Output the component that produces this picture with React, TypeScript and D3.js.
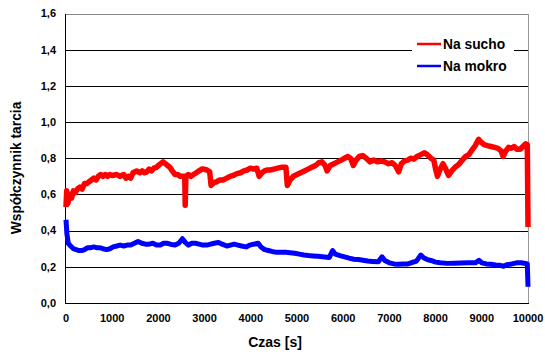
import React from "react";
import * as d3 from "d3";

const dryTimes = [0,15,40,80,120,160,200,250,300,350,400,450,500,550,600,650,700,750,800,850,900,950,1000,1100,1170,1250,1300,1350,1400,1450,1530,1600,1650,1700,1750,1800,1850,1900,1960,2000,2050,2100,2150,2200,2250,2300,2360,2420,2470,2530,2570,2580,2595,2650,2700,2760,2820,2880,2940,2980,3050,3110,3140,3200,3260,3330,3400,3480,3550,3620,3700,3780,3850,3920,3990,4060,4130,4180,4240,4300,4350,4420,4500,4580,4660,4760,4790,4850,4920,5000,5080,5160,5240,5320,5400,5470,5540,5610,5650,5720,5800,5880,5960,6030,6100,6160,6220,6280,6350,6420,6500,6580,6660,6740,6820,6900,6980,7060,7130,7200,7260,7330,7400,7460,7530,7600,7680,7760,7820,7900,7960,8000,8040,8100,8160,8220,8280,8350,8420,8500,8580,8650,8720,8800,8860,8930,8980,9050,9120,9200,9280,9350,9420,9460,9520,9580,9640,9700,9760,9830,9890,9950,9985,10000];
const dryValues = [0.53,0.62,0.55,0.60,0.58,0.62,0.61,0.63,0.64,0.63,0.66,0.66,0.67,0.68,0.69,0.68,0.70,0.71,0.70,0.71,0.70,0.71,0.705,0.71,0.70,0.71,0.69,0.70,0.69,0.72,0.73,0.72,0.73,0.72,0.725,0.74,0.73,0.745,0.75,0.76,0.77,0.78,0.77,0.76,0.75,0.73,0.71,0.71,0.70,0.70,0.70,0.54,0.70,0.71,0.70,0.71,0.72,0.73,0.74,0.74,0.735,0.725,0.65,0.665,0.67,0.68,0.68,0.69,0.70,0.705,0.715,0.72,0.73,0.735,0.745,0.74,0.745,0.70,0.72,0.73,0.735,0.735,0.74,0.745,0.75,0.75,0.65,0.68,0.70,0.71,0.72,0.73,0.74,0.75,0.76,0.775,0.78,0.76,0.73,0.76,0.77,0.78,0.79,0.80,0.81,0.80,0.76,0.79,0.81,0.815,0.80,0.78,0.79,0.78,0.785,0.78,0.77,0.775,0.76,0.725,0.77,0.785,0.79,0.80,0.795,0.81,0.82,0.83,0.82,0.80,0.79,0.74,0.70,0.74,0.77,0.74,0.705,0.73,0.75,0.765,0.79,0.81,0.82,0.85,0.87,0.905,0.89,0.875,0.87,0.865,0.86,0.855,0.84,0.81,0.84,0.86,0.855,0.865,0.85,0.85,0.865,0.88,0.875,0.42];

const wetTimes = [0,20,50,100,160,220,280,340,400,460,520,600,680,740,800,880,950,1020,1100,1170,1250,1320,1400,1480,1560,1640,1720,1800,1880,1960,2040,2110,2180,2260,2360,2440,2520,2580,2650,2720,2800,2880,2960,3050,3130,3210,3300,3380,3480,3560,3640,3720,3800,3900,3980,4060,4160,4220,4300,4380,4460,4560,4650,4750,4850,4950,5050,5150,5250,5350,5450,5550,5700,5770,5830,5930,6030,6130,6230,6330,6430,6530,6630,6760,6840,6900,7000,7100,7200,7300,7400,7500,7580,7680,7740,7820,7900,8000,8100,8250,8400,8550,8700,8860,8940,9000,9100,9200,9300,9400,9470,9550,9650,9750,9850,9950,9985,10000];
const wetValues = [0.46,0.38,0.33,0.315,0.30,0.295,0.29,0.29,0.295,0.305,0.305,0.31,0.305,0.305,0.30,0.295,0.30,0.31,0.315,0.32,0.315,0.32,0.32,0.33,0.34,0.33,0.325,0.325,0.33,0.32,0.32,0.33,0.33,0.325,0.32,0.33,0.355,0.335,0.32,0.33,0.33,0.325,0.32,0.32,0.325,0.33,0.335,0.325,0.315,0.32,0.325,0.32,0.315,0.31,0.32,0.325,0.33,0.31,0.295,0.29,0.285,0.28,0.28,0.28,0.278,0.275,0.27,0.265,0.262,0.26,0.258,0.256,0.252,0.29,0.27,0.262,0.255,0.248,0.242,0.24,0.236,0.232,0.23,0.228,0.255,0.235,0.222,0.216,0.214,0.215,0.216,0.225,0.23,0.265,0.25,0.24,0.235,0.226,0.222,0.219,0.22,0.221,0.222,0.222,0.236,0.222,0.216,0.214,0.21,0.208,0.203,0.212,0.216,0.222,0.222,0.218,0.216,0.09];

const xTicks = [0,1000,2000,3000,4000,5000,6000,7000,8000,9000,10000];
const yTicks = [0,0.2,0.4,0.6,0.8,1.0,1.2,1.4,1.6];
const seriesNames = ["Na sucho", "Na mokro"];
const seriesColors = ["#ff0000", "#0000ff"];

const W = 545, H = 356;
const L = 66, R = 528, T = 13.5, B = 303;

export default function App() {
  const x = d3.scaleLinear().domain([0, 10000]).range([L, R]);
  const y = d3.scaleLinear().domain([0, 1.6]).range([B, T]);
  const line = d3.line<[number, number]>().x(d => x(d[0])).y(d => y(d[1]));
  const dry: [number, number][] = dryTimes.map((t, i) => [t, dryValues[i]]);
  const wet: [number, number][] = wetTimes.map((t, i) => [t, wetValues[i]]);
  const font = "Arial, 'Liberation Sans', sans-serif";
  return (
    <svg width={W} height={H} style={{ position: "absolute", left: 0, top: 0, background: "#fff" }} fontFamily={font}>
      {yTicks.slice(1).map((v, i) => (
        <line key={i} x1={L} x2={R} y1={Math.round(y(v)) + 0.5} y2={Math.round(y(v)) + 0.5}
          stroke={v === 1.6 ? "#888" : "#000"} strokeWidth={1} />
      ))}
      <line x1={R + 0.5} x2={R + 0.5} y1={Math.round(T)} y2={B} stroke="#999" strokeWidth={1} />
      <line x1={L - 0.5} x2={L - 0.5} y1={Math.round(T)} y2={B + 0.5} stroke="#000" strokeWidth={1} />
      <line x1={L - 1} x2={R + 1} y1={B + 0.5} y2={B + 0.5} stroke="#000" strokeWidth={1} />
      <path d={line(wet) || ""} fill="none" stroke={seriesColors[1]} strokeWidth={5} strokeLinejoin="round" />
      <path d={line(dry) || ""} fill="none" stroke={seriesColors[0]} strokeWidth={5.5} strokeLinejoin="round" />
      {yTicks.map((v, i) => (
        <text key={i} x={56} y={y(v)} dy="0.35em" textAnchor="end" fontSize={11} fontWeight="bold" fill="#000">
          {v.toFixed(1).replace(".", ",")}
        </text>
      ))}
      {xTicks.map((v, i) => (
        <text key={i} x={x(v)} y={322} textAnchor="middle" fontSize={11} fontWeight="bold" fill="#000">{v}</text>
      ))}
      <text x={275} y={347} textAnchor="middle" fontSize={14} fontWeight="bold">Czas [s]</text>
      <text transform={`translate(21,168) rotate(-90)`} textAnchor="middle" fontSize={13.8} fontWeight="bold">Współczynnik tarcia</text>
      <rect x={412} y={36} width={102} height={40} fill="#fff" />
      {seriesNames.map((n, i) => (
        <g key={i}>
          <line x1={417} x2={441} y1={44 + i * 22} y2={44 + i * 22} stroke={seriesColors[i]} strokeWidth={2.5} />
          <text x={443} y={49 + i * 22} fontSize={13.8} fontWeight="bold">{n}</text>
        </g>
      ))}
    </svg>
  );
}
